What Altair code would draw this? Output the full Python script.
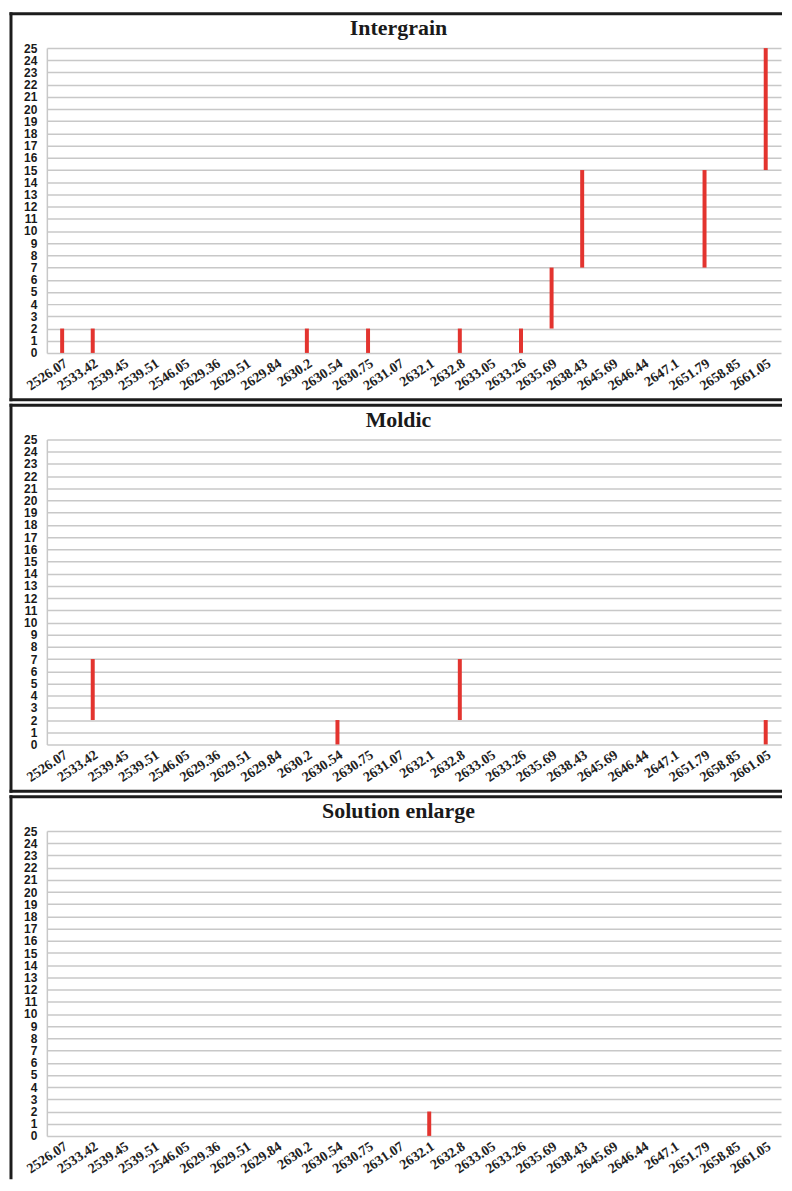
import altair as alt
import pandas as pd

depths = ["2526.07", "2533.42", "2539.45", "2539.51", "2546.05", "2629.36",
          "2629.51", "2629.84", "2630.2", "2630.54", "2630.75", "2631.07",
          "2632.1", "2632.8", "2633.05", "2633.26", "2635.69", "2638.43",
          "2645.69", "2646.44", "2647.1", "2651.79", "2658.85", "2661.05"]

# floating bar ranges (low -> high); None = no bar
intergrain_low = [0, 0, None, None, None, None, None, None, 0, None, 0, None,
                  None, 0, None, 0, 2, 7, None, None, None, 7, None, 15]
intergrain_high = [2, 2, None, None, None, None, None, None, 2, None, 2, None,
                   None, 2, None, 2, 7, 15, None, None, None, 15, None, 25]

moldic_low = [None, 2, None, None, None, None, None, None, None, 0, None, None,
              None, 2, None, None, None, None, None, None, None, None, None, 0]
moldic_high = [None, 7, None, None, None, None, None, None, None, 2, None, None,
               None, 7, None, None, None, None, None, None, None, None, None, 2]

solution_low = [None] * 12 + [0] + [None] * 11
solution_high = [None] * 12 + [2] + [None] * 11

titles = ["Intergrain", "Moldic", "Solution enlarge"]
y_ticks = list(range(0, 26))

W, H = 737, 306
RED = "#e3342f"
FRAME = "#1c1c1c"
GRID = "#c8c8c8"
FX = -36


def panel(title, lows, highs, bottom_edge=True):
    rows = [{"depth": d, "low": lo, "high": hi}
            for d, lo, hi in zip(depths, lows, highs) if hi is not None]
    df = pd.DataFrame(rows)
    bars = alt.Chart(df).mark_bar(size=4, color=RED).encode(
        x=alt.X("depth:N", sort=depths,
                scale=alt.Scale(domain=depths, paddingInner=0, paddingOuter=0),
                axis=alt.Axis(title=None, domain=False, ticks=False, grid=False,
                              labelAngle=-34, labelAlign="right", labelBaseline="top",
                              labelPadding=3, labelFont="Liberation Serif",
                              labelFontWeight="bold", labelFontSize=14,
                              labelColor="#222222", labelOverlap=False)),
        y=alt.Y("low:Q", scale=alt.Scale(domain=[0, 25], nice=False, zero=True),
                axis=alt.Axis(title=None, values=y_ticks, ticks=False, tickSize=0,
                              labelPadding=10, labelFont="Liberation Sans",
                              labelFontWeight="bold", labelFontSize=12,
                              labelColor="#1a1a1a", labelOverlap=False,
                              grid=True, gridColor=GRID, gridWidth=1.5,
                              domain=True, domainColor=GRID, domainWidth=1.5)),
        y2="high:Q",
    )
    one = pd.DataFrame({"k": [0]})
    left_end = H + 47 if bottom_edge else H + 42
    left = alt.Chart(one).mark_rule(color=FRAME, strokeWidth=3, strokeCap="square").encode(
        x=alt.value(FX), y=alt.value(-34.5), y2=alt.value(left_end))
    top = alt.Chart(one).mark_rule(color=FRAME, strokeWidth=3).encode(
        x=alt.value(FX - 1.5), x2=alt.value(W + 1), y=alt.value(-34.5))
    layers = [bars, left, top]
    if bottom_edge:
        bottom = alt.Chart(one).mark_rule(color=FRAME, strokeWidth=3).encode(
            x=alt.value(FX - 1.5), x2=alt.value(W + 1), y=alt.value(H + 47))
        layers.append(bottom)
    ttl = alt.Chart(one).mark_text(
        text=title, font="Liberation Serif", fontSize=22, fontWeight="bold",
        color="#1a1a1a", align="center", baseline="alphabetic").encode(
        x=alt.value(353), y=alt.value(-13))
    layers.append(ttl)
    return alt.layer(*layers).properties(width=W, height=H)


p1 = panel(titles[0], intergrain_low, intergrain_high)
p2 = panel(titles[1], moldic_low, moldic_high)
p3 = panel(titles[2], solution_low, solution_high, bottom_edge=False)

chart = alt.vconcat(p1, p2, p3, spacing=0).properties(
    padding={"left": 0, "top": 1, "right": 0, "bottom": 0}
).configure_view(stroke=None)

chart.save("out.html", embed_options={"renderer": "svg", "actions": False})
